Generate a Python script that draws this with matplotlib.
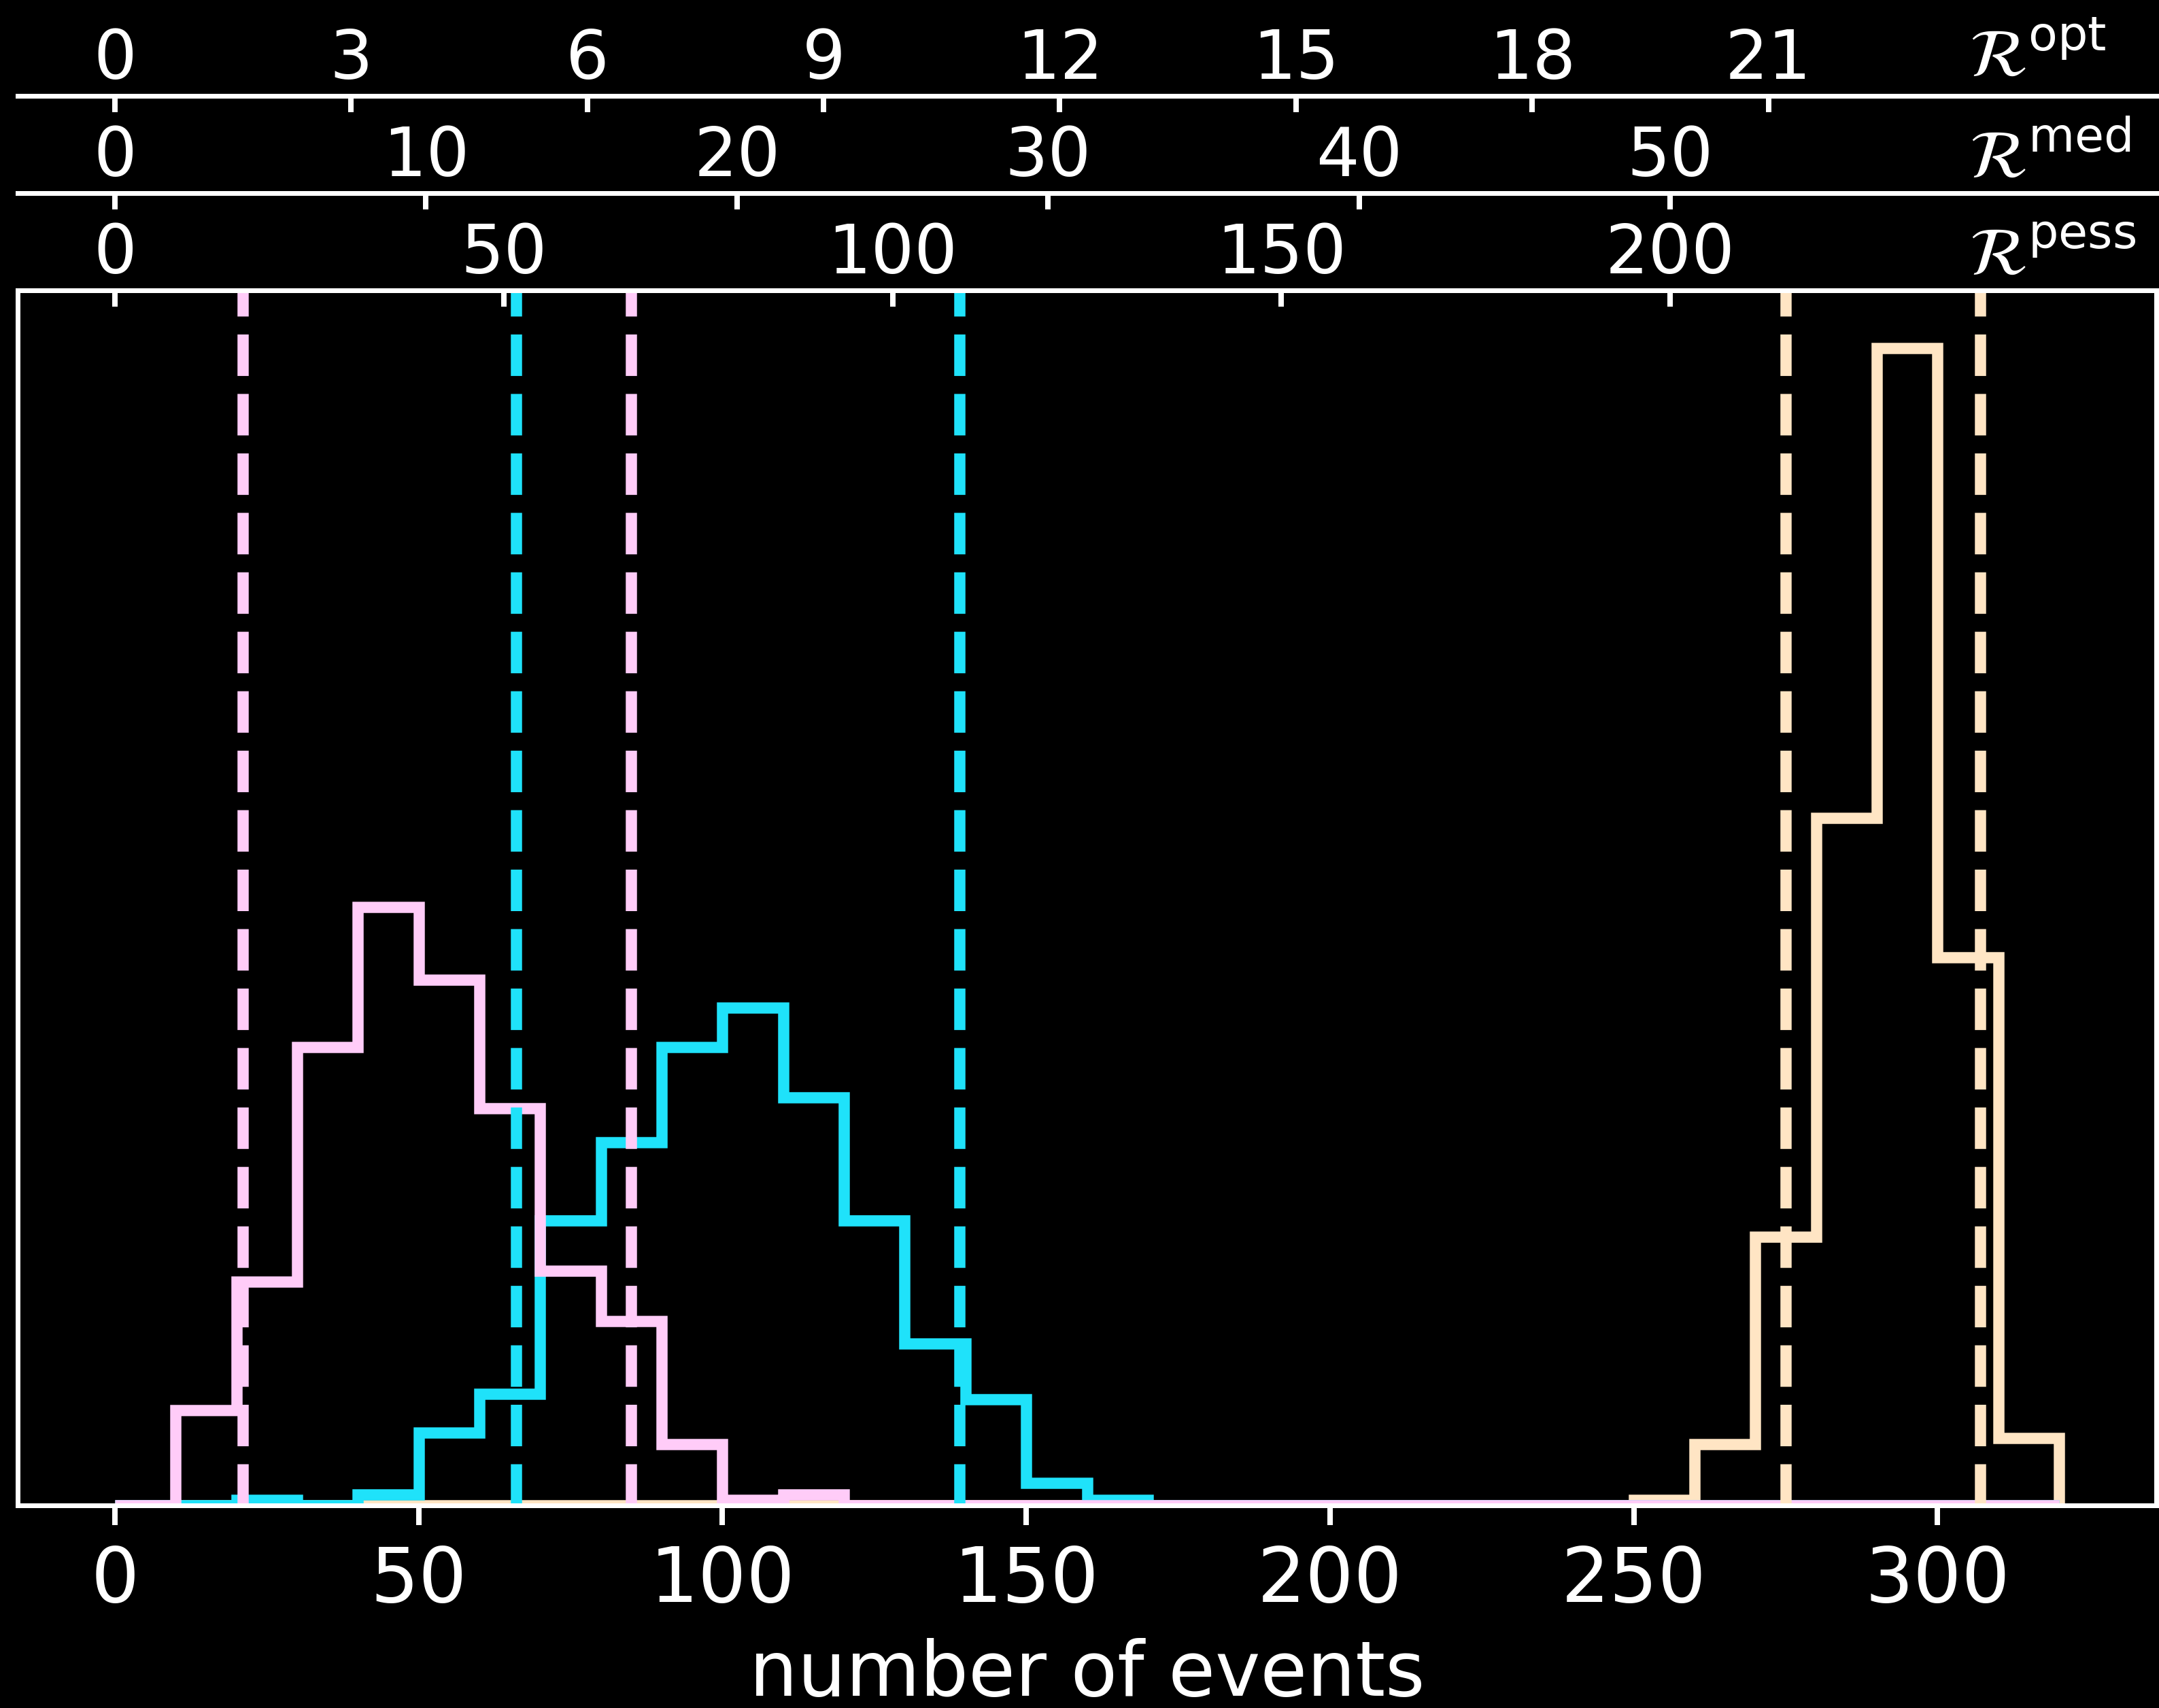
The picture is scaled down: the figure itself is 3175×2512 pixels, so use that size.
import numpy as np
import matplotlib
matplotlib.use("Agg")
import matplotlib.pyplot as plt

DPI = 300
W, H = 3175, 2512


def pt(px):
    # sizes below are worked out in output pixels
    return px * 72.0 / DPI


# bins of the event-count histograms (shared by all three)
bin_edges = np.arange(0, 330, 10)

# counts per bin, 500 realisations for each scenario
counts_pink = [0, 17, 40, 82, 107, 94, 71, 42, 33, 11, 1, 2,
               0, 0, 0, 0, 0, 0, 0, 0, 0, 0, 0, 0, 0, 0, 0, 0, 0, 0, 0, 0]
counts_cyan = [0, 0, 1, 0, 2, 13, 20, 51, 65, 82, 89, 73, 51, 29, 19, 4, 1,
               0, 0, 0, 0, 0, 0, 0, 0, 0, 0, 0, 0, 0, 0, 0]
counts_cream = [0, 0, 0, 0, 0, 0, 0, 0, 0, 0, 0, 0, 0, 0, 0, 0, 0, 0, 0, 0,
                0, 0, 0, 0, 0, 1, 11, 48, 123, 207, 98, 12]

# interval limits (dashed lines)
lims_pink = [21, 85]
lims_cyan = [66, 139]
lims_cream = [275, 307]

colors = {"pink": "#FFCCF8", "cyan": "#1FE2FA", "cream": "#FFE5C4"}

# number of events -> rate for each scenario
rate_names = ["opt", "med", "pess"]
rate_factors = [12.96, 5.12, 1.28]
rate_ticks = [list(range(0, 22, 3)), list(range(0, 51, 10)), list(range(0, 201, 50))]
rate_locs = [1.16, 1.08, 1.0]

fig = plt.figure(figsize=(W / DPI, H / DPI), dpi=DPI, facecolor="black")
ax = fig.add_axes([26 / W, 1 - 2214 / H, 3145 / W, 1787 / H], facecolor="black")

lw = pt(16.5)
for counts, lims, key in [(counts_cream, lims_cream, "cream"),
                          (counts_cyan, lims_cyan, "cyan"),
                          (counts_pink, lims_pink, "pink")]:
    ax.stairs(counts, bin_edges, color=colors[key], lw=lw, baseline=0)
for lims, key in [(lims_cream, "cream"), (lims_cyan, "cyan"), (lims_pink, "pink")]:
    for v in lims:
        ax.axvline(v, color=colors[key], lw=lw, ls="--")

for s in ax.spines.values():
    s.set_color("white")
    s.set_linewidth(pt(7))

ax.set_yticks([])
ax.set_xticks([0, 50, 100, 150, 200, 250, 300])
ax.tick_params(axis="x", bottom=True, top=False, direction="out", length=pt(29),
               width=pt(8), pad=pt(28), labelsize=pt(112), colors="white")
ax.set_xlabel("number of events", fontsize=pt(112), color="white", labelpad=pt(30))

# rate axes stacked above the plot
for name, f, ticks, loc in zip(rate_names, rate_factors, rate_ticks, rate_locs):
    sec = ax.secondary_xaxis(loc, functions=(lambda n, f=f: n / f, lambda r, f=f: r * f))
    sec.set_xticks(ticks)
    sec.tick_params(direction="in", length=pt(24), width=pt(8), pad=pt(4),
                    labelsize=pt(100), colors="white")
    sec.spines["top"].set_color("white")
    sec.spines["top"].set_linewidth(pt(7))

label_base = {"opt": 112, "med": 262, "pess": 404}
for name in rate_names:
    fig.text(2896 / W, 1 - label_base[name] / H, r"$\mathcal{R}^{\rm %s}$" % name,
             color="white", fontsize=pt(100), ha="left", va="baseline")

fig.savefig("out.png", dpi=DPI, facecolor="black")
